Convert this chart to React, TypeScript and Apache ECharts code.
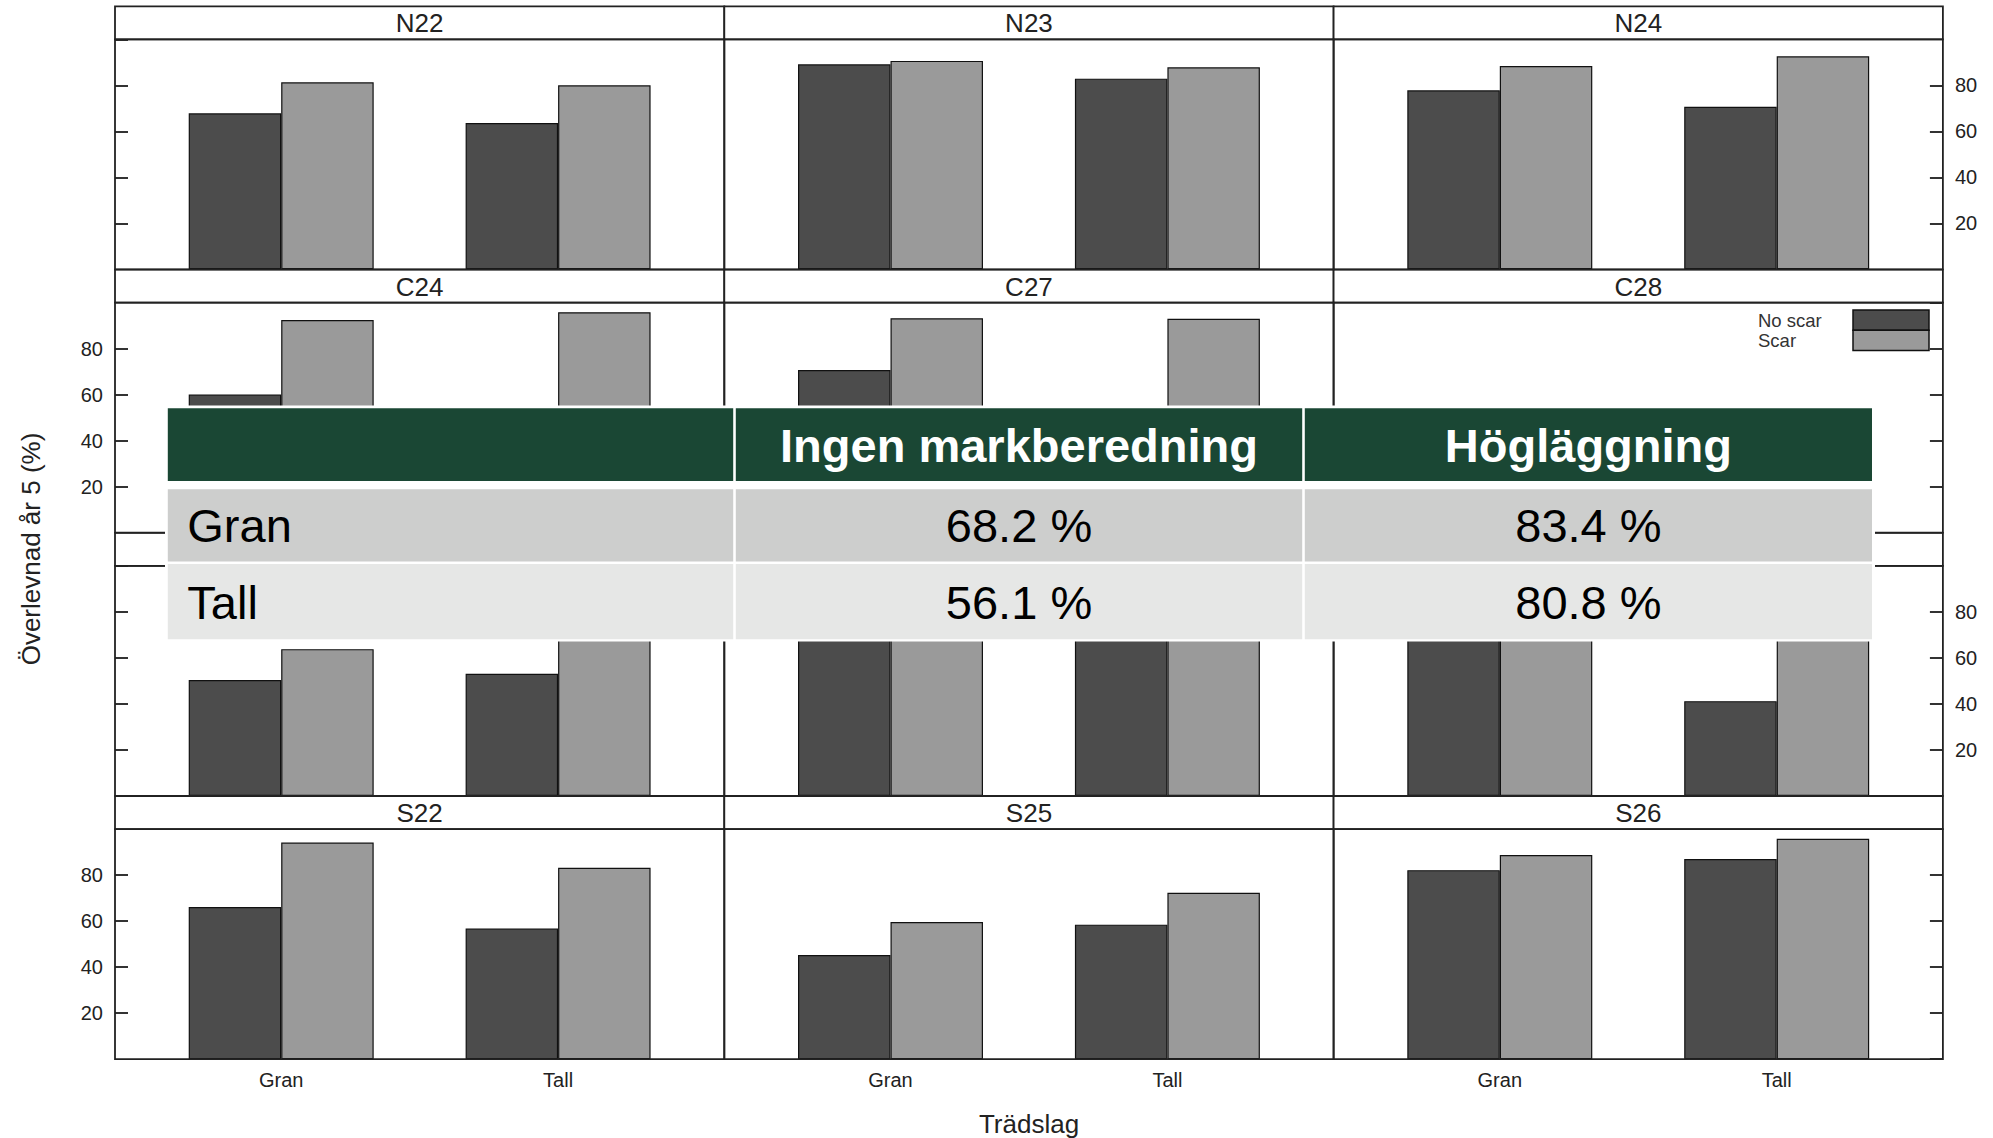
import React, { useEffect, useRef } from "react";
import * as echarts from "echarts";

// ---- data ----
const panelNames = ["N22", "N23", "N24", "C24", "C27", "C28", "", "", "", "S22", "S25", "S26"];
const categories = ["Gran", "Tall"];
const seriesNames = ["No scar", "Scar"];
// survival (%) year 5, per panel: [Gran, Tall]
const noScarGran = [67.8, 89.1, 77.8, 60.0, 70.7, 48, 50.4, 84, 76.8, 66.2, 45.3, 82.2];
const noScarTall = [63.6, 82.9, 70.7, 30, 25, 32, 53.1, 72, 41.2, 56.8, 58.5, 87.0];
const scarGran = [81.3, 90.6, 88.4, 92.4, 93.2, 50, 63.8, 95, 92, 94.2, 59.6, 88.8];
const scarTall = [80.0, 87.8, 92.6, 95.8, 93.0, 44, 72, 78, 75, 83.2, 72.4, 95.8];
const yTicks = [0, 20, 40, 60, 80, 100];
const tableHeader = ["", "Ingen markberedning", "Högläggning"];
const tableRows = [
  ["Gran", "68.2 %", "83.4 %"],
  ["Tall", "56.1 %", "80.8 %"],
];
const yTitle = "Överlevnad år 5 (%)";
const xTitle = "Trädslag";

const FONT = "Liberation Sans, Arial, Helvetica, sans-serif";

export default function App() {
  const ref = useRef<HTMLDivElement>(null);
  useEffect(() => {
    document.body.style.margin = "0";
    const chart = echarts.init(ref.current!, undefined, { renderer: "svg" });

    const L0 = 115;
    const W = 609.3;
    const S0 = 6.3;
    const STEP = 263.3;
    const STRIP = 33;
    const PH = 230;
    const INSET = 27.75;
    const dark = "#4c4c4c";
    const light = "#9a9a9a";
    const lineC = "#222";

    const grids: any[] = [];
    const xAxes: any[] = [];
    const yAxes: any[] = [];
    const series: any[] = [];
    const graphics: any[] = [];

    for (let i = 0; i < 12; i++) {
      const r = Math.floor(i / 3);
      const c = i % 3;
      const L = L0 + c * W;
      const S = S0 + r * STEP;
      const T = S + STRIP;
      grids.push({ left: L + INSET, top: T, width: W - 2 * INSET, height: PH, containLabel: false });
      xAxes.push({
        type: "category",
        gridIndex: i,
        data: categories,
        boundaryGap: true,
        axisLine: { show: false },
        axisTick: { show: false },
        splitLine: { show: false },
        axisLabel: { show: r === 3, fontSize: 20, margin: 11, color: "#222", fontFamily: FONT },
      });
      const tickStyle = { show: true, inside: true, length: 13, lineStyle: { color: "#333", width: 2 } };
      if (c === 0 || c === 2) {
        const showLab = c === 0 ? r % 2 === 1 : r % 2 === 0;
        yAxes.push({
          type: "value",
          gridIndex: i,
          position: c === 0 ? "left" : "right",
          offset: INSET,
          min: yTicks[0],
          max: yTicks[yTicks.length - 1],
          interval: yTicks[1] - yTicks[0],
          axisLine: { show: false },
          axisTick: tickStyle,
          splitLine: { show: false },
          axisLabel: {
            show: showLab,
            showMinLabel: false,
            showMaxLabel: false,
            margin: 12,
            fontSize: 20,
            color: "#222",
            fontFamily: FONT,
          },
        });
      } else {
        yAxes.push({ type: "value", gridIndex: i, min: 0, max: 100, show: false });
      }
      const vals = [
        [noScarGran[i], noScarTall[i]],
        [scarGran[i], scarTall[i]],
      ];
      seriesNames.forEach((nm, k) => {
        series.push({
          type: "bar",
          name: nm,
          xAxisIndex: i,
          yAxisIndex: i,
          data: vals[k],
          barWidth: "33.4%",
          barGap: "0%",
          itemStyle: { color: k === 0 ? dark : light, borderColor: "#111", borderWidth: 1.2 },
          z: 2,
        });
      });
      // frame: strip + panel
      graphics.push({
        type: "rect",
        z: 1,
        shape: { x: L, y: S, width: W, height: STRIP },
        style: { fill: "#fff", stroke: lineC, lineWidth: 1.8 },
      });
      graphics.push({
        type: "rect",
        z: 5,
        shape: { x: L, y: T, width: W, height: PH },
        style: { fill: "none", stroke: lineC, lineWidth: 1.8 },
      });
      if (panelNames[i]) {
        graphics.push({
          type: "text",
          z: 6,
          x: L + W / 2,
          y: S + STRIP / 2 + 0.5,
          style: {
            text: panelNames[i],
            fontSize: 26,
            fontFamily: FONT,
            fill: "#222",
            align: "center",
            verticalAlign: "middle",
            textAlign: "center",
            textVerticalAlign: "middle",
          },
        });
      }
    }

    // legend (inside C28)
    const legX = 1853;
    const legY = 310;
    seriesNames.forEach((nm, k) => {
      graphics.push({
        type: "rect",
        z: 7,
        shape: { x: legX, y: legY + k * 20.3, width: 76, height: 20.3 },
        style: { fill: k === 0 ? dark : light, stroke: "#111", lineWidth: 1.5 },
      });
      graphics.push({
        type: "text",
        z: 7,
        x: 1758,
        y: legY + 10 + k * 20.3,
        style: {
          text: nm,
          fontSize: 18.5,
          fontFamily: FONT,
          fill: "#333",
          align: "left",
          verticalAlign: "middle",
          textAlign: "left",
          textVerticalAlign: "middle",
        },
      });
    });

    // axis titles
    graphics.push({
      type: "text",
      z: 7,
      x: 30.5,
      y: 549,
      rotation: Math.PI / 2,
      style: {
        text: yTitle,
        fontSize: 26,
        fontFamily: FONT,
        fill: "#222",
        align: "center",
        verticalAlign: "middle",
        textAlign: "center",
        textVerticalAlign: "middle",
      },
    });
    graphics.push({
      type: "text",
      z: 7,
      x: 1029,
      y: 1123.6,
      style: {
        text: xTitle,
        fontSize: 26,
        fontFamily: FONT,
        fill: "#222",
        align: "center",
        verticalAlign: "middle",
        textAlign: "center",
        textVerticalAlign: "middle",
      },
    });

    // overlay table
    const tX0 = 167.8;
    const tX1 = 1872;
    const colEdges = [tX0, 734.5, 1303.5, tX1];
    const rowsY = [
      [408.3, 481],
      [489.3, 561.5],
      [564, 639.3],
    ];
    const rowFills = ["#1a4734", "#cdcecd", "#e6e7e6"];
    graphics.push({
      type: "rect",
      z: 100,
      shape: { x: 165, y: 405.5, width: 1710, height: 236 },
      style: { fill: "#fff" },
    });
    const allRows = [tableHeader, ...tableRows];
    allRows.forEach((row, ri) => {
      const [y0, y1] = rowsY[ri];
      for (let ci = 0; ci < 3; ci++) {
        const x0 = colEdges[ci] + (ci > 0 ? 1.3 : 0);
        const x1 = colEdges[ci + 1] - (ci < 2 ? 1.3 : 0);
        graphics.push({
          type: "rect",
          z: 101,
          shape: { x: x0, y: y0, width: x1 - x0, height: y1 - y0 },
          style: { fill: rowFills[ri] },
        });
        const txt = row[ci];
        if (!txt) continue;
        const isHeader = ri === 0;
        const leftCol = ci === 0;
        graphics.push({
          type: "text",
          z: 102,
          x: leftCol ? x0 + 19.5 : (x0 + x1) / 2,
          y: (y0 + y1) / 2 + 0.5,
          style: {
            text: txt,
            fontSize: 47,
            fontWeight: isHeader ? "bold" : "normal",
            fontFamily: FONT,
            fill: isHeader ? "#ffffff" : "#000000",
            align: leftCol ? "left" : "center",
            verticalAlign: "middle",
            textAlign: leftCol ? "left" : "center",
            textVerticalAlign: "middle",
          },
        });
      }
    });

    chart.setOption({
      animation: false,
      backgroundColor: "#ffffff",
      grid: grids,
      xAxis: xAxes,
      yAxis: yAxes,
      series,
      graphic: { elements: graphics },
    });
    return () => chart.dispose();
  }, []);
  return <div ref={ref} style={{ width: 1993, height: 1138 }} />;
}
